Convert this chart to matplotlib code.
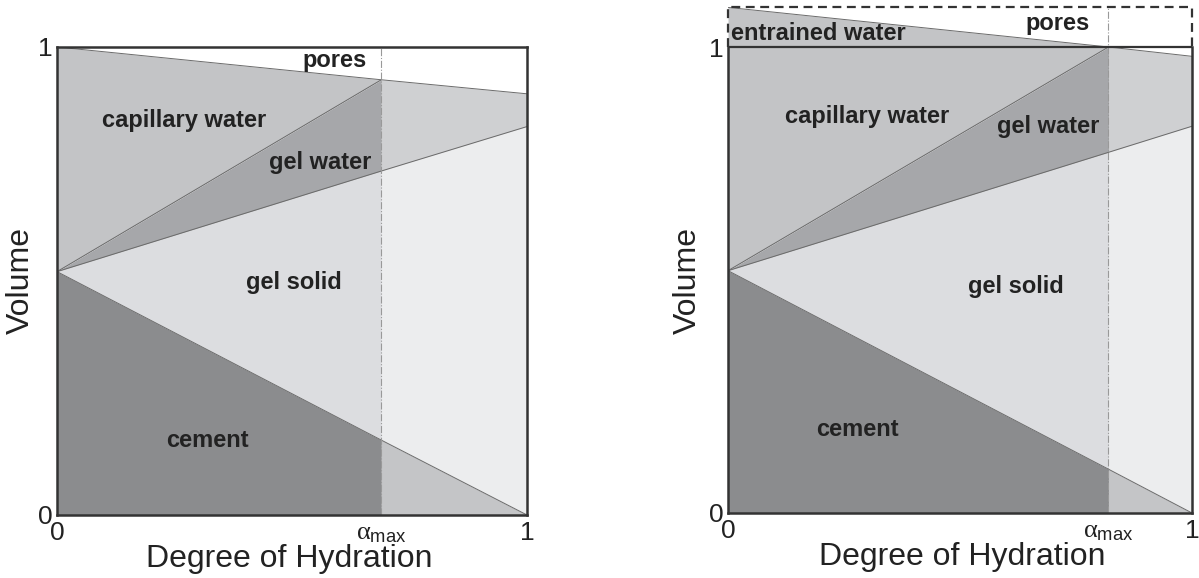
import matplotlib
matplotlib.use('Agg')
import matplotlib.pyplot as plt

plt.rcParams['font.family'] = ['Liberation Sans', 'DejaVu Sans']
plt.rcParams['mathtext.fontset'] = 'custom'
plt.rcParams['mathtext.rm'] = 'Liberation Sans'
plt.rcParams['mathtext.it'] = 'Liberation Serif'

# ---- data (volume fractions vs degree of hydration) ----
# left panel: sealed paste
alpha_max_l = 0.69
hyd_l = [0.0, alpha_max_l, 1.0]
cement_l = [0.52, 0.16, 0.0]
gel_solid_l = [0.52, 0.735, 0.83]
gel_water_l = [0.52, 0.93]
pores_l = [1.0, 0.93, 0.90]

# right panel: with entrained water
alpha_max_r = 0.82
hyd_r = [0.0, alpha_max_r, 1.0]
cement_r = [0.52, 0.094, 0.0]
gel_solid_r = [0.52, 0.774, 0.83]
gel_water_r = [0.52, 1.0]
pores_r = [1.085, 1.0, 0.98]
total_r = 1.0

C_CEM = '#8b8c8e'
C_CEM2 = '#c4c5c7'
C_GS = '#dcdde0'
C_GS2 = '#ecedee'
C_GW = '#a6a7aa'
C_CW = '#c3c4c6'
C_W2 = '#cfd0d2'
EDGE = '#6a6a6a'
FRAME = '#333333'
TXT = '#222222'

fig = plt.figure(figsize=(11.99, 5.78), dpi=100)
ax1 = fig.add_axes([57/1199, 63/578, 470/1199, 468/578])
ax2 = fig.add_axes([728/1199, 65/578, 464/1199, 1.085*466/578])


def draw_panel(ax, hyd, cement, gel_solid, gel_water, pores, am):
    x_a = hyd[:2]
    x_b = hyd[1:]
    # before alpha_max
    ax.fill_between(x_a, 0, cement[:2], color=C_CEM, lw=0)
    ax.fill_between(x_a, cement[:2], gel_solid[:2], color=C_GS, lw=0)
    ax.fill_between(x_a, gel_solid[:2], gel_water, color=C_GW, lw=0)
    # after alpha_max
    ax.fill_between(x_b, 0, cement[1:], color=C_CEM2, lw=0)
    ax.fill_between(x_b, cement[1:], gel_solid[1:], color=C_GS2, lw=0)
    ax.fill_between(x_b, gel_solid[1:], pores[1:], color=C_W2, lw=0)
    # boundaries
    ax.plot(hyd, cement, color=EDGE, lw=0.7)
    ax.plot(hyd, gel_solid, color=EDGE, lw=0.7)
    ax.plot(x_a, gel_water, color=EDGE, lw=0.7)
    ax.plot(hyd, pores, color=EDGE, lw=0.7)
    ax.set_xlim(0, 1)
    ax.set_xticks([0, am, 1])
    ax.set_xticklabels(['0', r'$\alpha_{\rm max}$', '1'], fontsize=19)
    ax.tick_params(length=0, pad=4, colors=TXT)
    ax.tick_params(axis='y', pad=3)
    ax.set_xlabel('Degree of Hydration', fontsize=23, color=TXT)
    ax.set_ylabel('Volume', fontsize=23, color=TXT)


fs = 17

# left
draw_panel(ax1, hyd_l, cement_l, gel_solid_l, gel_water_l, pores_l, alpha_max_l)
ax1.fill_between(hyd_l[:2], gel_water_l, pores_l[:2], color=C_CW, lw=0)
ax1.set_ylim(0, 1)
ax1.set_yticks([0, 1])
ax1.set_yticklabels(['0', '1'], fontsize=19)
ax1.axvline(alpha_max_l, color='#999999', lw=0.8, ls='-.')
for s in ax1.spines.values():
    s.set_linewidth(1.8)
    s.set_color(FRAME)
ax1.xaxis.set_label_coords(0.495, -0.063)
ax1.yaxis.set_label_coords(-0.045, 0.5)
ax1.text(0.59, 0.972, 'pores', fontsize=fs, weight='bold', ha='center', va='center', color=TXT)
ax1.text(0.27, 0.844, 'capillary water', fontsize=fs, weight='bold', ha='center', va='center', color=TXT)
ax1.text(0.56, 0.754, 'gel water', fontsize=fs, weight='bold', ha='center', va='center', color=TXT)
ax1.text(0.505, 0.496, 'gel solid', fontsize=fs, weight='bold', ha='center', va='center', color=TXT)
ax1.text(0.32, 0.16, 'cement', fontsize=fs, weight='bold', ha='center', va='center', color=TXT)

# right
draw_panel(ax2, hyd_r, cement_r, gel_solid_r, gel_water_r, pores_r, alpha_max_r)
ax2.fill_between(hyd_r[:2], gel_water_r, total_r, color=C_CW, lw=0)
ax2.fill_between(hyd_r[:2], total_r, pores_r[:2], color=C_CW, lw=0)
ax2.set_ylim(0, pores_r[0])
ax2.set_yticks([0, 1])
ax2.set_yticklabels(['0', '1'], fontsize=19)
ax2.plot([alpha_max_r, alpha_max_r], [0, pores_r[0]], color='#999999', lw=0.8, ls='-.')
ax2.axhline(total_r, color=FRAME, lw=1.6)
for s in ax2.spines.values():
    s.set_visible(False)
ax2.plot([0, 1], [0, 0], color=FRAME, lw=1.8, clip_on=False)
ax2.plot([0, 0], [0, total_r], color=FRAME, lw=1.8, clip_on=False)
ax2.plot([1, 1], [0, total_r], color=FRAME, lw=1.8, clip_on=False)
ax2.plot([0, 0, 1, 1], [total_r, pores_r[0], pores_r[0], total_r], color=FRAME,
         lw=1.6, ls=(0, (4, 2.5)), clip_on=False)
ax2.xaxis.set_label_coords(0.504, -0.058)
ax2.yaxis.set_label_coords(-0.054, 0.46)
ax2.text(0.006, 1.03, 'entrained water', fontsize=fs, weight='bold', ha='left', va='center', color=TXT)
ax2.text(0.71, 1.05, 'pores', fontsize=fs, weight='bold', ha='center', va='center', color=TXT)
ax2.text(0.30, 0.85, 'capillary water', fontsize=fs, weight='bold', ha='center', va='center', color=TXT)
ax2.text(0.69, 0.83, 'gel water', fontsize=fs, weight='bold', ha='center', va='center', color=TXT)
ax2.text(0.62, 0.485, 'gel solid', fontsize=fs, weight='bold', ha='center', va='center', color=TXT)
ax2.text(0.28, 0.18, 'cement', fontsize=fs, weight='bold', ha='center', va='center', color=TXT)

fig.savefig('out.png', dpi=100)
